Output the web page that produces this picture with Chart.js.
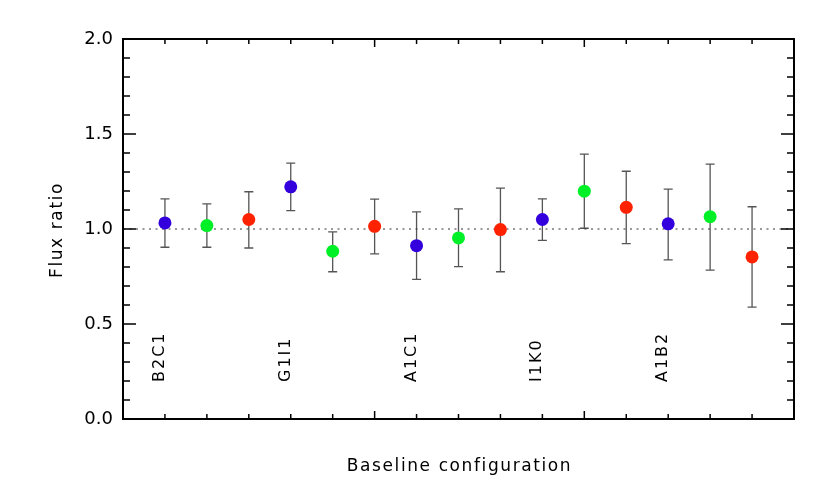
<!DOCTYPE html>
<html lang="en">
<head>
<meta charset="UTF-8">
<title>Flux ratio</title>
<style>
  body{ margin:0; background:#fff; }
</style>
</head>
<body>
<canvas id="myChart" width="830" height="498"></canvas>
<script src="https://cdn.jsdelivr.net/npm/chart.js"></script>
<script>
// data
const baselines = ['B2C1', 'G1I1', 'A1C1', 'I1K0', 'A1B2'];
const baselineX = [1, 4, 7, 10, 13];
const xPos     = [1, 2, 3, 4, 5, 6, 7, 8, 9, 10, 11, 12, 13, 14, 15];
const ratio    = [1.032, 1.018, 1.050, 1.222, 0.883, 1.014, 0.912, 0.953, 0.997, 1.050, 1.199, 1.114, 1.027, 1.065, 0.853];
const errLow   = [0.904, 0.904, 0.900, 1.097, 0.775, 0.869, 0.735, 0.802, 0.775, 0.940, 1.004, 0.923, 0.837, 0.784, 0.589];
const errHigh  = [1.159, 1.132, 1.196, 1.347, 0.985, 1.157, 1.090, 1.106, 1.215, 1.159, 1.394, 1.304, 1.210, 1.341, 1.117];
const colours  = ['#3300dd', '#00f028', '#ff2200'];
const refLevel = 1.0;
const yTicks   = [0, 0.5, 1.0, 1.5, 2.0];

const FONT = '"DejaVu Sans", sans-serif';

const pointColors = xPos.map((x, i) => colours[i % 3]);

const errorBars = {
    id: 'errorBars',
    beforeDatasetsDraw(chart) {
        const ctx = chart.ctx, xs = chart.scales.x, ys = chart.scales.y;
        ctx.save();
        ctx.strokeStyle = '#555';
        ctx.lineWidth = 1.3;
        xPos.forEach((x, i) => {
            const px = xs.getPixelForValue(x);
            const lo = ys.getPixelForValue(errLow[i]);
            const hi = ys.getPixelForValue(errHigh[i]);
            ctx.beginPath();
            ctx.moveTo(px, lo); ctx.lineTo(px, hi);
            ctx.moveTo(px - 4.5, lo); ctx.lineTo(px + 4.5, lo);
            ctx.moveTo(px - 4.5, hi); ctx.lineTo(px + 4.5, hi);
            ctx.stroke();
        });
        ctx.restore();
    }
};

const frame = {
    id: 'frame',
    afterDraw(chart) {
        const ctx = chart.ctx, a = chart.chartArea;
        const xs = chart.scales.x, ys = chart.scales.y;
        ctx.save();
        ctx.strokeStyle = '#000';
        ctx.lineWidth = 1.5;
        ctx.beginPath();
        // x ticks, inward, top and bottom
        for (let v = 1; v <= 15; v++) {
            const px = xs.getPixelForValue(v);
            const len = (v === 6 || v === 11) ? 8 : 5;
            ctx.moveTo(px, a.bottom); ctx.lineTo(px, a.bottom - len);
            ctx.moveTo(px, a.top); ctx.lineTo(px, a.top + len);
        }
        // y ticks, inward, left and right
        for (let k = 1; k < 20; k++) {
            const py = ys.getPixelForValue(k / 10);
            const len = (k % 5 === 0) ? 13 : 7;
            ctx.moveTo(a.left, py); ctx.lineTo(a.left + len, py);
            ctx.moveTo(a.right, py); ctx.lineTo(a.right - len, py);
        }
        ctx.stroke();
        ctx.lineWidth = 2;
        ctx.strokeRect(a.left, a.top, a.right - a.left, a.bottom - a.top);

        // baseline names, rotated, inside the plot
        ctx.fillStyle = '#000';
        ctx.font = '16px ' + FONT;
        ctx.letterSpacing = '2px';
        ctx.textAlign = 'left';
        ctx.textBaseline = 'alphabetic';
        baselines.forEach((name, i) => {
            const px = xs.getPixelForValue(baselineX[i]);
            const py = ys.getPixelForValue(0.2);
            ctx.save();
            ctx.translate(px - 1, py + 1);
            ctx.rotate(-Math.PI / 2);
            ctx.fillText(name, 0, 0);
            ctx.restore();
        });

        // axis titles
        ctx.font = '17px ' + FONT;
        ctx.letterSpacing = '1.6px';
        ctx.textAlign = 'center';
        ctx.textBaseline = 'middle';
        ctx.fillText('Baseline configuration', (a.left + a.right) / 2 + 1, 467);
        ctx.save();
        ctx.translate(58, (a.top + a.bottom) / 2 + 1);
        ctx.rotate(-Math.PI / 2);
        ctx.fillText('Flux ratio', 0, 0);
        ctx.restore();
        ctx.restore();
    }
};

const contexto = document.querySelector('#myChart');
const grafico = new Chart(contexto, {
    type: 'scatter',
    data: {
        datasets: [
            {
                label: 'Flux ratio',
                data: xPos.map((x, i) => ({ x: x, y: ratio[i] })),
                backgroundColor: pointColors,
                borderColor: pointColors,
                pointRadius: 6.5,
                pointHoverRadius: 6.5,
                borderWidth: 0
            },
            {
                type: 'line',
                label: 'unity',
                data: [{ x: 0, y: refLevel }, { x: 16, y: refLevel }],
                borderColor: '#333',
                borderWidth: 1,
                borderDash: [2, 4.5],
                pointRadius: 0,
                fill: false,
                order: 5
            }
        ]
    },
    options: {
        responsive: false,
        animation: false,
        events: [],
        layout: { padding: { top: 39, right: 36, left: 0, bottom: 0 } },
        plugins: { legend: { display: false }, tooltip: { enabled: false } },
        scales: {
            x: {
                type: 'linear', min: 0, max: 16,
                grid: { display: false },
                border: { display: false },
                ticks: { display: false },
                afterFit(scale) { scale.height = 79; }
            },
            y: {
                min: 0, max: 2,
                grid: { display: false, drawTicks: false },
                border: { display: false },
                afterBuildTicks(scale) { scale.ticks = yTicks.map(v => ({ value: v })); },
                ticks: {
                    color: '#000',
                    padding: 10,
                    font: { family: FONT, size: 18 },
                    callback: v => v.toFixed(1)
                },
                afterFit(scale) { scale.width = 123; }
            }
        }
    },
    plugins: [errorBars, frame]
});
</script>
</body>
</html>
